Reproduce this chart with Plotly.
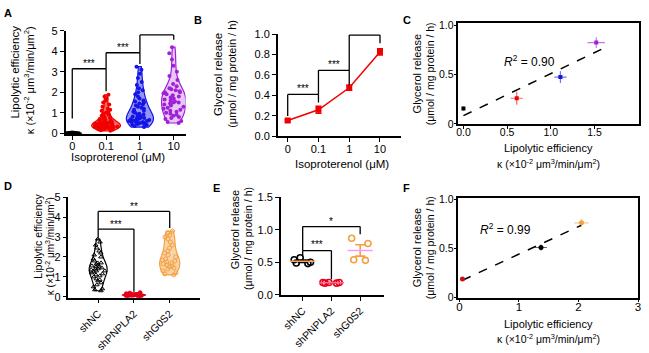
import numpy as np
import plotly.graph_objects as go

W, H = 649, 353
def px(x): return x / W
def py(y): return 1 - y / H

FONT = "Arial, Liberation Sans, Helvetica, sans-serif"

# ---------------- Data ----------------
iso_labels = ["0", "0.1", "1", "10"]
kappa_iso_0 = [0.0, 0.01, 0.0, 0.02, 0.01, 0.0, 0.0, 0.03, 0.01, 0.02, 0.0, 0.01, 0.0, 0.02,
               0.01, 0.0, 0.03, 0.0, 0.01, 0.02, 0.0, 0.01, 0.0, 0.02, 0.01, 0.0, 0.01, 0.02]
kappa_iso_01 = [0.12, 0.15, 0.18, 0.2, 0.2, 0.22, 0.24, 0.25, 0.25, 0.26, 0.28, 0.28, 0.3, 0.3,
                0.31, 0.32, 0.33, 0.34, 0.35, 0.35, 0.36, 0.37, 0.38, 0.38, 0.4, 0.4, 0.41, 0.42,
                0.43, 0.45, 0.45, 0.47, 0.48, 0.5, 0.5, 0.52, 0.55, 0.55, 0.58, 0.6, 0.62, 0.65,
                0.68, 0.7, 0.72, 0.75, 0.8, 0.85, 0.9, 0.95, 1.0, 1.05, 1.1, 1.15, 1.2, 1.3, 1.4,
                1.5, 1.6, 1.7, 1.8, 1.88]
kappa_iso_1 = [0.3, 0.35, 0.4, 0.42, 0.45, 0.48, 0.5, 0.5, 0.52, 0.55, 0.55, 0.58, 0.6, 0.6,
               0.62, 0.65, 0.65, 0.68, 0.7, 0.72, 0.75, 0.78, 0.8, 0.82, 0.85, 0.9, 0.92, 0.95,
               1.0, 1.05, 1.1, 1.15, 1.2, 1.25, 1.3, 1.35, 1.4, 1.45, 1.5, 1.55, 1.6, 1.7, 1.8,
               1.9, 2.0, 2.1, 2.2, 2.35, 2.5, 2.7, 2.9, 3.1, 3.25]
kappa_iso_10 = [0.5, 0.55, 0.6, 0.7, 0.75, 0.8, 0.85, 0.9, 0.95, 1.0, 1.05, 1.1, 1.15, 1.2,
                1.25, 1.3, 1.35, 1.4, 1.45, 1.5, 1.5, 1.55, 1.6, 1.65, 1.7, 1.75, 1.8, 1.85,
                1.9, 1.95, 2.0, 2.0, 2.05, 2.1, 2.15, 2.2, 2.3, 2.4, 2.6, 2.8, 3.0, 3.3, 3.6,
                3.9, 4.2]

glycerol_iso_mean = [0.155, 0.26, 0.475, 0.825]
glycerol_iso_sem = [0.01, 0.035, 0.025, 0.03]

kappa_iso_mean = [0.0, 0.61, 1.11, 1.52]
kappa_iso_sem = [0.0, 0.07, 0.07, 0.1]
glycerol_iso_sem_c = [0.02, 0.065, 0.06, 0.055]

sh_labels = ["shNC", "shPNPLA2", "shG0S2"]
kappa_shNC = [0.3, 0.35, 0.4, 0.5, 0.6, 0.7, 0.8, 0.85, 0.9, 1.0, 1.05, 1.1, 1.15, 1.2, 1.25,
              1.3, 1.3, 1.35, 1.4, 1.4, 1.45, 1.5, 1.5, 1.55, 1.6, 1.65, 1.7, 1.7, 1.8, 1.9,
              2.0, 2.1, 2.2, 2.3, 2.45, 2.6, 2.75, 2.9]
kappa_shPNPLA2 = [0.02, 0.04, 0.05, 0.06, 0.07, 0.08, 0.08, 0.09, 0.1, 0.1, 0.11, 0.12, 0.13,
                  0.15, 0.18, 0.2]
kappa_shG0S2 = [1.1, 1.15, 1.2, 1.3, 1.4, 1.45, 1.5, 1.55, 1.6, 1.65, 1.7, 1.75, 1.8, 1.85,
                1.9, 2.0, 2.1, 2.2, 2.3, 2.45, 2.6, 2.75, 2.9, 3.0, 3.1, 3.2, 3.3]

glycerol_shNC = [0.48, 0.49, 0.5, 0.54, 0.57]
glycerol_shPNPLA2 = [0.18, 0.19, 0.19, 0.19, 0.18]
glycerol_shG0S2 = [0.53, 0.54, 0.79, 0.87]

kappa_sh_mean = [1.37, 0.05, 2.05]
kappa_sh_sem = [0.1, 0.02, 0.12]
glycerol_sh_mean = [0.51, 0.19, 0.76]
glycerol_sh_sem = [0.03, 0.01, 0.04]

# ---------------- Colors ----------------
C_BLACK = "#000000"
C_RED = "#f20000"
C_BLUE = "#1414e6"
C_PURPLE = "#a020d8"
C_ORANGE = "#f5a040"
iso_colors = [C_BLACK, C_RED, C_BLUE, C_PURPLE]
sh_colors = [C_BLACK, "#e8001a", C_ORANGE]

def rgba(hexc, a):
    h = hexc.lstrip("#")
    return "rgba(%d,%d,%d,%.2f)" % (int(h[0:2], 16), int(h[2:4], 16), int(h[4:6], 16), a)

fig = go.Figure()

# ---------------- Panel A: violins ----------------
iso_groups = [kappa_iso_0, kappa_iso_01, kappa_iso_1, kappa_iso_10]
a_widths = [0.55, 0.85, 0.8, 0.72]
a_alpha = [0.6, 0.6, 0.45, 0.25]
for i, vals in enumerate(iso_groups):
    col = iso_colors[i]
    fig.add_trace(go.Violin(
        x=[i] * len(vals), y=vals, xaxis="x", yaxis="y",
        width=a_widths[i], spanmode="hard", points="all", pointpos=0, jitter=0.9,
        line=dict(color=col, width=1.2), fillcolor=rgba(col, a_alpha[i]),
        marker=dict(color=col, size=4, line=dict(width=0)),
        showlegend=False, hoverinfo="skip"))

# ---------------- Panel B: line ----------------
fig.add_trace(go.Scatter(
    x=list(range(4)), y=glycerol_iso_mean, xaxis="x2", yaxis="y2",
    mode="lines+markers", line=dict(color=C_RED, width=1.5),
    marker=dict(symbol="square", size=6, color=C_RED),
    error_y=dict(type="data", array=glycerol_iso_sem, color=C_RED, thickness=1.5, width=3),
    showlegend=False, hoverinfo="skip"))

# ---------------- Panel C: correlation ----------------
slope_c, icpt_c = np.polyfit(kappa_iso_mean, glycerol_iso_mean, 1)
xfit_c = np.array([0.0, 1.6])
fig.add_trace(go.Scatter(
    x=xfit_c, y=icpt_c + slope_c * xfit_c, xaxis="x3", yaxis="y3", mode="lines",
    line=dict(color="black", width=1.5, dash="dash"), showlegend=False, hoverinfo="skip"))
for i in range(4):
    col = iso_colors[i]
    fig.add_trace(go.Scatter(
        x=[kappa_iso_mean[i]], y=[glycerol_iso_mean[i]], xaxis="x3", yaxis="y3",
        mode="markers", marker=dict(symbol="square", size=4, color=col),
        error_x=dict(type="data", array=[kappa_iso_sem[i]], color=rgba(col, 0.6), thickness=1.2, width=0),
        error_y=dict(type="data", array=[glycerol_iso_sem_c[i]], color=rgba(col, 0.6), thickness=1.2, width=0),
        showlegend=False, hoverinfo="skip"))

# ---------------- Panel D: violins ----------------
sh_groups = [kappa_shNC, kappa_shPNPLA2, kappa_shG0S2]
d_widths = [0.5, 0.65, 0.56]
d_fill = [rgba("#ffffff", 0.0), rgba(sh_colors[1], 0.8), rgba(C_ORANGE, 0.45)]
d_sym = ["triangle-up-open", "circle", "circle-open"]
for i, vals in enumerate(sh_groups):
    col = sh_colors[i]
    fig.add_trace(go.Violin(
        x=[i] * len(vals), y=vals, xaxis="x4", yaxis="y4",
        width=d_widths[i], spanmode="hard", points="all", pointpos=0, jitter=0.9,
        line=dict(color=col, width=1.2), fillcolor=d_fill[i],
        marker=dict(color=col, size=4, symbol=d_sym[i], line=dict(width=1, color=col)),
        showlegend=False, hoverinfo="skip"))

# ---------------- Panel E: dot plot with mean ± SEM ----------------
e_groups = [glycerol_shNC, glycerol_shPNPLA2, glycerol_shG0S2]
for i, vals in enumerate(e_groups):
    col = sh_colors[i]
    fig.add_trace(go.Box(
        x=[i] * len(vals), y=vals, xaxis="x5", yaxis="y5", width=0.7,
        boxpoints="all", jitter=1, pointpos=0,
        line=dict(color="rgba(0,0,0,0)", width=0), fillcolor="rgba(0,0,0,0)",
        marker=dict(color=col, size=6, symbol="circle-open", line=dict(width=1.6, color=col)),
        showlegend=False, hoverinfo="skip"))
    m = float(np.mean(vals))
    s = float(np.std(vals, ddof=1) / np.sqrt(len(vals)))
    fig.add_trace(go.Scatter(
        x=[i], y=[m], xaxis="x5", yaxis="y5", mode="markers",
        marker=dict(symbol="line-ew-open", size=18, line=dict(width=1.6, color=col)),
        error_y=dict(type="data", array=[s], color=col, thickness=1.6, width=5),
        showlegend=False, hoverinfo="skip"))

# ---------------- Panel F: correlation ----------------
slope_f, icpt_f = np.polyfit(kappa_sh_mean, glycerol_sh_mean, 1)
xfit_f = np.array([min(kappa_sh_mean), max(kappa_sh_mean)])
fig.add_trace(go.Scatter(
    x=xfit_f, y=icpt_f + slope_f * xfit_f, xaxis="x6", yaxis="y6", mode="lines",
    line=dict(color="black", width=1.5, dash="dash"), showlegend=False, hoverinfo="skip"))
f_colors = [C_BLACK, "#d01010", C_ORANGE]
for i in range(3):
    col = f_colors[i]
    fig.add_trace(go.Scatter(
        x=[kappa_sh_mean[i]], y=[glycerol_sh_mean[i]], xaxis="x6", yaxis="y6",
        mode="markers", marker=dict(symbol="circle", size=5, color=col),
        error_x=dict(type="data", array=[kappa_sh_sem[i]], color=rgba(col, 0.6), thickness=1.2, width=0),
        error_y=dict(type="data", array=[glycerol_sh_sem[i]], color=rgba(col, 0.6), thickness=1.2, width=0),
        showlegend=False, hoverinfo="skip"))

# ---------------- Axes ----------------
def ax(size=11, **kw):
    base = dict(showline=True, linecolor="black", linewidth=1.5, ticks="outside",
                ticklen=4, tickwidth=1.2, tickcolor="black", showgrid=False,
                zeroline=False, tickfont=dict(family=FONT, size=size, color="black"),
                fixedrange=True)
    base.update(kw)
    return base

layout = dict(
    width=W, height=H, margin=dict(l=0, r=0, t=0, b=0),
    paper_bgcolor="white", plot_bgcolor="white",
    violinmode="overlay", boxmode="overlay", showlegend=False,
    font=dict(family=FONT, color="black"),
    xaxis=ax(domain=[px(64), px(185)], range=[-0.2, 3.35], tickvals=[0, 1, 2, 3],
             ticktext=iso_labels, anchor="y", ticklabelstandoff=-3),
    yaxis=ax(domain=[py(132.8), py(25.7)], range=[-0.05, 5], tickvals=[0, 1, 2, 3, 4, 5], anchor="x"),
    xaxis2=ax(domain=[px(278), px(402)], range=[-0.32, 3.68], tickvals=[0, 1, 2, 3],
              ticktext=iso_labels, anchor="y2", ticklabelstandoff=-2),
    yaxis2=ax(domain=[py(135), py(29)], range=[0, 1.0], tickvals=[0, 0.2, 0.4, 0.6, 0.8, 1.0],
              tickformat=".1f", anchor="x2"),
    xaxis3=ax(size=10.5, domain=[px(460), px(642)], range=[-0.057, 2.01], tickvals=[0, 0.5, 1, 1.5],
              ticktext=["0.0", "0.5", "1.0", "1.5"], mirror=True, anchor="y3",
              ticklen=3, ticklabelstandoff=-5),
    yaxis3=ax(size=10.5, domain=[py(122), py(18)], range=[0, 1.02], tickvals=[0, 0.5, 1.0],
              ticktext=["0", "0.5", "1.0"], mirror=True, anchor="x3", ticklen=3,
              ticklabelstandoff=-2),
    xaxis4=ax(size=10.5, domain=[px(67), px(200)], range=[-0.83, 2.86], tickvals=[0, 1, 2],
              ticktext=sh_labels, tickangle=-45, anchor="y4"),
    yaxis4=ax(domain=[py(302), py(198)], range=[-0.05, 5], tickvals=[0, 1, 2, 3, 4, 5], anchor="x4"),
    xaxis5=ax(size=10.5, domain=[px(281), px(385)], range=[-0.76, 2.83], tickvals=[0, 1, 2],
              ticktext=sh_labels, tickangle=-45, anchor="y5"),
    yaxis5=ax(domain=[py(299), py(198)], range=[0, 1.5], tickvals=[0, 0.5, 1.0, 1.5],
              ticktext=["0.0", "0.5", "1.0", "1.5"], anchor="x5"),
    xaxis6=ax(size=11.5, domain=[px(460), px(641)], range=[-0.017, 3.0], tickvals=[0, 1, 2, 3],
              mirror=True, anchor="y6", ticklen=3, ticklabelstandoff=-5),
    yaxis6=ax(size=10.5, domain=[py(302), py(199)], range=[0, 1.01], tickvals=[0, 0.5, 1.0],
              ticktext=["0", "0.5", "1.0"], mirror=True, anchor="x6", ticklen=3,
              ticklabelstandoff=-2),
)
fig.update_layout(**layout)

# ---------------- Significance brackets ----------------
# (x_left, x_right, y_top, y_left_end, y_right_end, label, label_y)
brackets = {
    ("x", "y"): [(0, 1, 3.15, 0.72, 2.05, "***", 3.4),
                 (1, 2, 3.93, 3.15, 3.38, "***", 4.2),
                 (2, 3, 4.8, 3.93, 4.56, "***", 5.1)],
    ("x2", "y2"): [(0, 1, 0.41, 0.2, 0.33, "***", 0.465),
                   (1, 2, 0.645, 0.41, 0.5, "***", 0.7),
                   (2, 3, 0.99, 0.645, 0.91, "***", 1.045)],
    ("x4", "y4"): [(0, 1, 3.4, 2.96, 0.25, "***", 3.62),
                   (0, 2, 4.29, 3.4, 3.45, "**", 4.52)],
    ("x5", "y5"): [(0, 1, 0.68, 0.61, 0.24, "***", 0.77),
                   (0, 2, 1.05, 0.68, 0.93, "*", 1.13)],
}
shapes = []
annotations = []
for (xr, yr), blist in brackets.items():
    for (x0, x1, yt, yl, yrr, lab, ly) in blist:
        ln = dict(color="black", width=1.3)
        shapes.append(dict(type="line", xref=xr, yref=yr, x0=x0, x1=x1, y0=yt, y1=yt, line=ln))
        shapes.append(dict(type="line", xref=xr, yref=yr, x0=x0, x1=x0, y0=yl, y1=yt, line=ln))
        shapes.append(dict(type="line", xref=xr, yref=yr, x0=x1, x1=x1, y0=yrr, y1=yt, line=ln))
        annotations.append(dict(xref=xr, yref=yr, x=(x0 + x1) / 2, y=ly, text=lab,
                                showarrow=False, font=dict(size=10, family=FONT, color="black"),
                                xanchor="center", yanchor="middle"))

# ---------------- Text annotations ----------------
def txt(x, y, text, size=11, angle=0, bold=False, xanchor="center"):
    t = "<b>%s</b>" % text if bold else text
    annotations.append(dict(xref="paper", yref="paper", x=px(x), y=py(y), text=t,
                            showarrow=False, textangle=angle, xanchor=xanchor, yanchor="middle",
                            font=dict(size=size, family=FONT, color="black")))

kappa_unit = "κ (×10<sup>-2</sup> μm<sup>3</sup>/min/μm<sup>2</sup>)"
glyc_unit = "(μmol / mg protein / h)"

# panel letters
for lab, x, y in [("A", 6, 7), ("B", 198, 15), ("C", 408, 15),
                  ("D", 6, 186), ("E", 216, 188), ("F", 408, 188)]:
    txt(x, y, lab, size=11, bold=True)

# A
txt(13, 68, "Lipolytic efficiency", size=11.5, angle=-90)
txt(28, 77, kappa_unit, size=11, angle=-90)
txt(117, 156, "Isoproterenol (μM)", size=11.5)
# B
txt(217, 71, "Glycerol release", size=11.5, angle=-90)
txt(231, 70, glyc_unit, size=11, angle=-90)
txt(343, 164, "Isoproterenol (μM)", size=11.5)
# C
txt(418, 70, "Glycerol release", size=11, angle=-90)
txt(431, 70, glyc_unit, size=10.5, angle=-90)
txt(551, 147, "Lipolytic efficiency", size=11)
txt(551, 163, kappa_unit, size=10.5)
annotations.append(dict(xref="x3", yref="y3", x=0.76, y=0.64,
                        text="<i>R</i><sup>2</sup> = 0.90", showarrow=False,
                        font=dict(size=12, family=FONT, color="black")))
# D
txt(36, 238, "Lipolytic efficiency", size=10.5, angle=-90)
txt(48, 249, kappa_unit, size=10, angle=-90)
# E
txt(235, 232, "Glycerol release", size=11, angle=-90)
txt(248, 241, glyc_unit, size=10.5, angle=-90)
# F
txt(418, 250, "Glycerol release", size=11, angle=-90)
txt(431, 250, glyc_unit, size=10.5, angle=-90)
txt(551, 329, "Lipolytic efficiency", size=11)
txt(551, 344, kappa_unit, size=10.5)
annotations.append(dict(xref="x6", yref="y6", x=0.78, y=0.70,
                        text="<i>R</i><sup>2</sup> = 0.99", showarrow=False,
                        font=dict(size=12, family=FONT, color="black")))

fig.update_layout(shapes=shapes, annotations=annotations)
fig.write_html("out.html")
